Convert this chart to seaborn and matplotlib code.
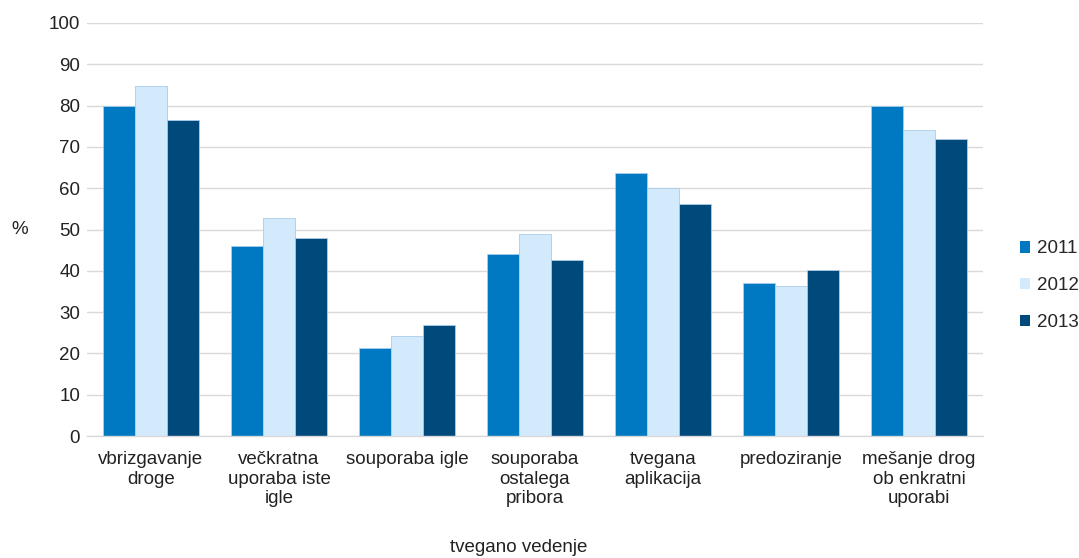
import numpy as np
import pandas as pd
import matplotlib.pyplot as plt
import seaborn as sns

# Podatki
kategorije = ['vbrizgavanje\ndroge', 'večkratna\nuporaba iste\nigle', 'souporaba igle',
              'souporaba\nostalega\npribora', 'tvegana\naplikacija', 'predoziranje',
              'mešanje drog\nob enkratni\nuporabi']
leta = ['2011', '2012', '2013']
v2011 = [80.0, 46.0, 21.3, 44.0, 63.8, 37.1, 79.8]
v2012 = [84.8, 52.9, 24.2, 49.0, 60.0, 36.4, 74.1]
v2013 = [76.5, 48.0, 26.8, 42.6, 56.2, 40.2, 72.0]
barve = ['#0079C2', '#D3E9FC', '#00497B']

df = pd.DataFrame({
    'kategorija': kategorije * 3,
    'leto': sum([[l] * len(kategorije) for l in leta], []),
    'vrednost': v2011 + v2012 + v2013,
})

sns.set_theme(style='white')
plt.rcParams['font.family'] = ['Liberation Sans', 'DejaVu Sans']
fs = 13.5

fig = plt.figure(figsize=(10.79, 5.58), dpi=100)
ax = fig.add_axes([0.0806, 0.2186, 0.8305, 0.7402])

sns.barplot(data=df, x='kategorija', y='vrednost', hue='leto', palette=barve,
            saturation=1, width=0.75, gap=0, edgecolor='#A8CCEB', linewidth=0.6, ax=ax)

ax.set_ylim(0, 100)
ax.set_yticks(np.arange(0, 101, 10))
ax.set_xlim(-0.5, len(kategorije) - 0.5)
ax.yaxis.grid(True, color='#D9D9D9', linewidth=1)
ax.set_axisbelow(True)
for s in ['top', 'right', 'left']:
    ax.spines[s].set_visible(False)
ax.spines['bottom'].set_color('#D9D9D9')
ax.spines['bottom'].set_linewidth(1)
ax.tick_params(axis='both', length=0, labelsize=fs, colors='#222222')
ax.tick_params(axis='y', pad=5)
ax.tick_params(axis='x', pad=11)
for t in ax.get_xticklabels():
    t.set_linespacing(1.2)
ax.set_xlabel('')
ax.set_ylabel('')

fig.text(20 / 1079, 1 - 230 / 558, '%', ha='center', va='center', fontsize=fs, color='#222222')
fig.text(519 / 1079, 1 - 548 / 558, 'tvegano vedenje', ha='center', va='center', fontsize=fs, color='#222222')

leg = ax.legend(loc='center left', bbox_to_anchor=(1.022, 0.364), frameon=False, fontsize=fs,
                handlelength=0.55, handleheight=0.55, handletextpad=0.35, labelspacing=1.05)
for h in leg.legend_handles:
    h.set_edgecolor('none')

fig.savefig('out.png', dpi=100)
